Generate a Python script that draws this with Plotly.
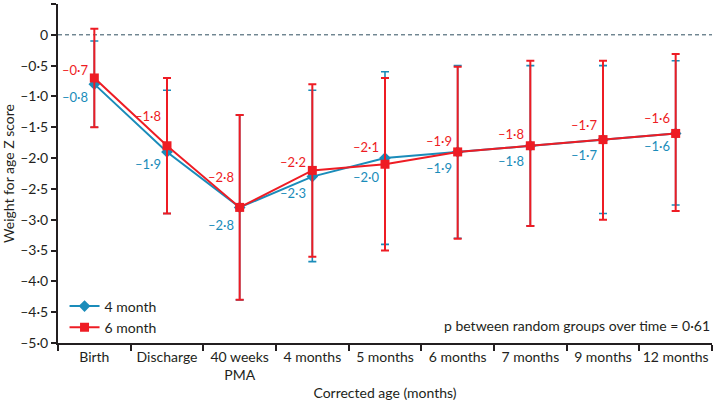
import plotly.graph_objects as go

categories = ["Birth", "Discharge", "40 weeks<br>PMA", "4 months", "5 months",
              "6 months", "7 months", "9 months", "12 months"]

m4_mean = [-0.8, -1.9, -2.8, -2.3, -2.0, -1.9, -1.8, -1.7, -1.6]
m4_upper = [-0.1, -0.9, -1.3, -0.9, -0.6, -0.5, -0.5, -0.5, -0.42]
m4_lower = [-1.5, -2.9, -4.3, -3.68, -3.4, -3.3, -3.1, -2.9, -2.76]

m6_mean = [-0.7, -1.8, -2.8, -2.2, -2.1, -1.9, -1.8, -1.7, -1.6]
m6_upper = [0.1, -0.7, -1.3, -0.8, -0.7, -0.52, -0.42, -0.42, -0.31]
m6_lower = [-1.5, -2.9, -4.3, -3.6, -3.5, -3.31, -3.1, -3.0, -2.86]

y_tickvals = [0.5, 0, -0.5, -1.0, -1.5, -2.0, -2.5, -3.0, -3.5, -4.0, -4.5, -5.0]
y_ticktext = ["0·5", "0", "–0·5", "–1·0", "–1·5", "–2·0", "–2·5", "–3·0",
              "–3·5", "–4·0", "–4·5", "–5·0"]

# label pixel offsets (layout only)
m6_label_dy = [8, 30, 30, 8, 17, 11, 12, 15, 15]
m4_label_dy = [-13, -12, -18, -16, -19, -16, -15, -15, -13]

BLUE = "#1a8cba"
RED = "#ee1c24"
TXT = "#231f20"
FONT = "Lato"


def fmt(v):
    s = f"{abs(v):.1f}".replace(".", "·")
    return ("–" if v < 0 else "") + s


fig = go.Figure()

fig.add_trace(go.Scatter(
    x=categories, y=m4_mean, mode="lines+markers", name="4 month",
    line=dict(color=BLUE, width=2),
    marker=dict(symbol="diamond", size=9, color=BLUE),
    error_y=dict(type="data", symmetric=False,
                 array=[u - m for u, m in zip(m4_upper, m4_mean)],
                 arrayminus=[m - l for l, m in zip(m4_lower, m4_mean)],
                 color=BLUE, thickness=1.6, width=4),
))
fig.add_trace(go.Scatter(
    x=categories, y=m6_mean, mode="lines+markers", name="6 month",
    line=dict(color=RED, width=2),
    marker=dict(symbol="square", size=9, color=RED),
    error_y=dict(type="data", symmetric=False,
                 array=[u - m for u, m in zip(m6_upper, m6_mean)],
                 arrayminus=[m - l for l, m in zip(m6_lower, m6_mean)],
                 color=RED, thickness=2, width=4),
))

annotations = []
for c, v, dy in zip(categories, m6_mean, m6_label_dy):
    annotations.append(dict(x=c, y=v, text=fmt(v), showarrow=False,
                            xanchor="right", yanchor="middle", xshift=-4, yshift=dy,
                            font=dict(family=FONT, size=13, color=RED)))
for c, v, dy in zip(categories, m4_mean, m4_label_dy):
    annotations.append(dict(x=c, y=v, text=fmt(v), showarrow=False,
                            xanchor="right", yanchor="middle", xshift=-4, yshift=dy,
                            font=dict(family=FONT, size=13, color=BLUE)))
annotations.append(dict(xref="paper", yref="paper", x=1.0, y=0.053,
                        text="p between random groups over time = 0·61",
                        showarrow=False, xanchor="right", yanchor="middle",
                        font=dict(family=FONT, size=14, color=TXT)))

fig.add_shape(type="line", xref="paper", yref="y", x0=0, x1=1, y0=0, y1=0,
              line=dict(color="#2f4f5f", width=1, dash="4px,3px"), layer="below")

fig.update_layout(
    width=714, height=403,
    margin=dict(l=58, r=2, t=4, b=60),
    paper_bgcolor="white", plot_bgcolor="white",
    font=dict(family=FONT, size=14, color=TXT),
    showlegend=True,
    legend=dict(x=0.01, y=0.155, xanchor="left", yanchor="top",
                bgcolor="rgba(0,0,0,0)", font=dict(size=14, color=TXT),
                tracegroupgap=0, itemwidth=30),
    annotations=annotations,
)
fig.update_xaxes(
    type="category", range=[-0.5, 8.5], tickson="boundaries", tickangle=0,
    ticks="outside", ticklen=6, tickwidth=2, tickcolor="#231f20",
    showline=True, linecolor="#231f20", linewidth=2, showgrid=False,
    tickfont=dict(size=14, color=TXT), automargin=False,
    title=dict(text="Corrected age (months)", font=dict(size=14, color=TXT), standoff=6),
)
fig.update_yaxes(
    range=[-5.0, 0.5], tickvals=y_tickvals, ticktext=y_ticktext,
    ticks="outside", ticklen=5, tickwidth=2, tickcolor="#231f20",
    showline=True, linecolor="#231f20", linewidth=2, showgrid=False, zeroline=False,
    tickfont=dict(size=14, color=TXT), automargin=False,
    title=dict(text="Weight for age Z score", font=dict(size=14, color=TXT), standoff=4),
)

fig.write_html("out.html", config={"displayModeBar": False},
               post_script="document.body.style.margin='0';")
